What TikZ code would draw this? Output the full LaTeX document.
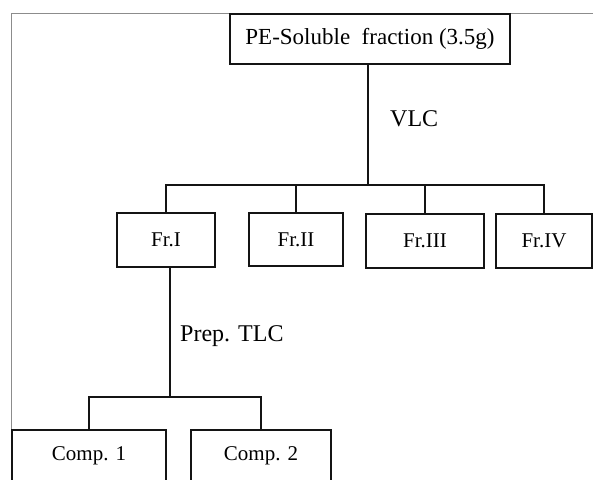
\documentclass[tikz,border=0pt]{standalone}
\usepackage{fontspec}
\setmainfont{Liberation Serif}
\usepackage{xcolor}
\definecolor{frameGray}{HTML}{8C8C8C}
\definecolor{boxLine}{HTML}{141414}

\begin{document}
\begin{tikzpicture}[x=1pt, y=-1pt,
    box/.style={draw=boxLine, line width=1.6pt, inner sep=0pt, font=\fontsize{21}{24}\selectfont},
    link/.style={draw=boxLine, line width=1.6pt},
    sepLabel/.style={anchor=west, inner sep=0pt, font=\fontsize{24}{28}\selectfont}]
  \clip (0,0) rectangle (593,479);
  \filldraw[fill=white, draw=none] (0,0) rectangle (593,479);
  \draw[frameGray, line width=0.8pt] (11,490) -- (11,13) -- (600,13);
  \node[box, minimum width=280, minimum height=50, font=\fontsize{23}{26}\selectfont] (pe) at (370,39) {PE-Soluble~ fraction (3.5g)};
  \node[box, minimum width=98, minimum height=54] (fr1) at (166,240) {Fr.I};
  \node[box, minimum width=94, minimum height=53] (fr2) at (296,239.5) {Fr.II};
  \node[box, minimum width=118, minimum height=54] (fr3) at (425,241) {Fr.III};
  \node[box, minimum width=96, minimum height=54] (fr4) at (544,241) {Fr.IV};
  \node[box, minimum width=154, minimum height=52] (comp1) at (89,456) {Comp. 1};
  \node[box, minimum width=140, minimum height=52] (comp2) at (261,456) {Comp. 2};
  \coordinate (vlcSplit) at (368,185);
  \coordinate (tlcSplit) at (170,397);
  \node[sepLabel] (vlc) at (390,119) {VLC};
  \node[sepLabel] (tlc) at (180,336) {Prep. TLC};
  \draw[link] (pe.south -| vlcSplit) -- (vlcSplit);
  \draw[link] (fr1.north) |- (fr4.north |- vlcSplit) -- (fr4.north);
  \draw[link] (fr2.north) -- (fr2.north |- vlcSplit);
  \draw[link] (fr3.north) -- (fr3.north |- vlcSplit);
  \draw[link] (fr1.south -| tlcSplit) -- (tlcSplit);
  \draw[link] (comp1.north) |- (comp2.north |- tlcSplit) -- (comp2.north);
\end{tikzpicture}
\end{document}
